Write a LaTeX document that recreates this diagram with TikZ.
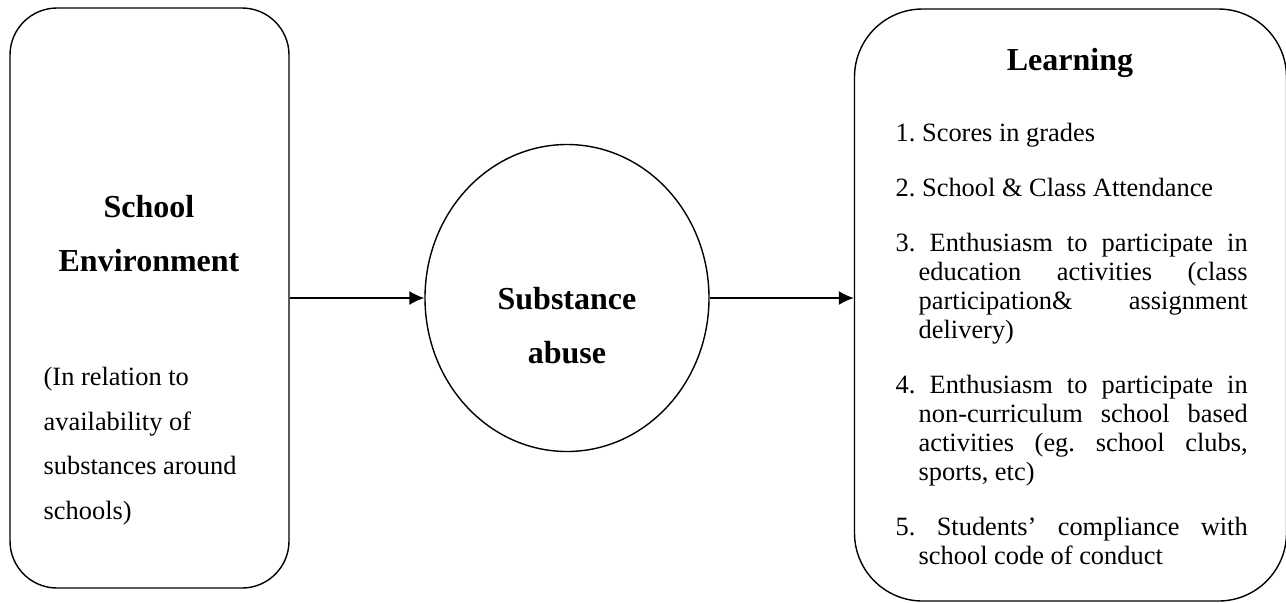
\documentclass[tikz,border=0pt]{standalone}
\usepackage{fontspec}
\setmainfont{Liberation Serif}
\usetikzlibrary{arrows.meta,shapes.geometric,positioning}
\newcommand{\lrnitem}[1]{\hangindent=11.5pt\hangafter=1 #1\par}

\begin{document}
\begin{tikzpicture}[x=.5pt,y=-.5pt,line width=.7pt,
  panel/.style={draw,rounded corners=#1,inner sep=0pt},
  head/.style={font=\fontsize{16}{27}\selectfont\bfseries,align=center},
  body/.style={font=\fontsize{13.2}{22.2}\selectfont,align=left,inner sep=0pt},
  link/.style={-{Latex[length=7.5pt,width=7pt]},line width=.75pt}]
\useasboundingbox (0,0) rectangle (1286,602);
% the three blocks
\node[panel=23.5pt,minimum width=139.5pt,minimum height=290pt] (env) at (149.5,298){};
\node[draw,ellipse,inner sep=0pt,minimum width=142pt,minimum height=153.5pt] (abuse) at (567,298){};
\node[panel=34pt,minimum width=216pt,minimum height=296pt] (learn) at (1070.5,305){};
% texts (base = last line)
\node[head,anchor=base] (envtitle) at (149,271){School\\Environment};
\node[body,anchor=base west] (envnote) at (43,519){(In relation to\\availability of\\substances around\\schools)};
\node[head,anchor=base] (abusetxt) at (567,363){Substance\\abuse};
\node[head,anchor=base] (learntitle) at (1070,70){Learning};
\node[body,anchor=base west] (items) at (895,141){\parbox[t]{176pt}{\fontsize{13.2}{14.5}\selectfont\frenchspacing\setlength{\parskip}{13pt}%
\lrnitem{1. Scores in grades}
\lrnitem{2. School \& Class Attendance}
\lrnitem{3. Enthusiasm to participate in\linebreak education activities (class\linebreak participation\& assignment\linebreak delivery)}
\lrnitem{4. Enthusiasm to participate in\linebreak non-curriculum school based\linebreak activities (eg. school clubs,\linebreak sports, etc)}
\lrnitem{5. Students' compliance with\linebreak school code of conduct}}};
% arrows
\draw[link] (env) -- (abuse);
\draw[link] (abuse.east) -- (abuse.east -| learn.west);
\end{tikzpicture}
\end{document}
